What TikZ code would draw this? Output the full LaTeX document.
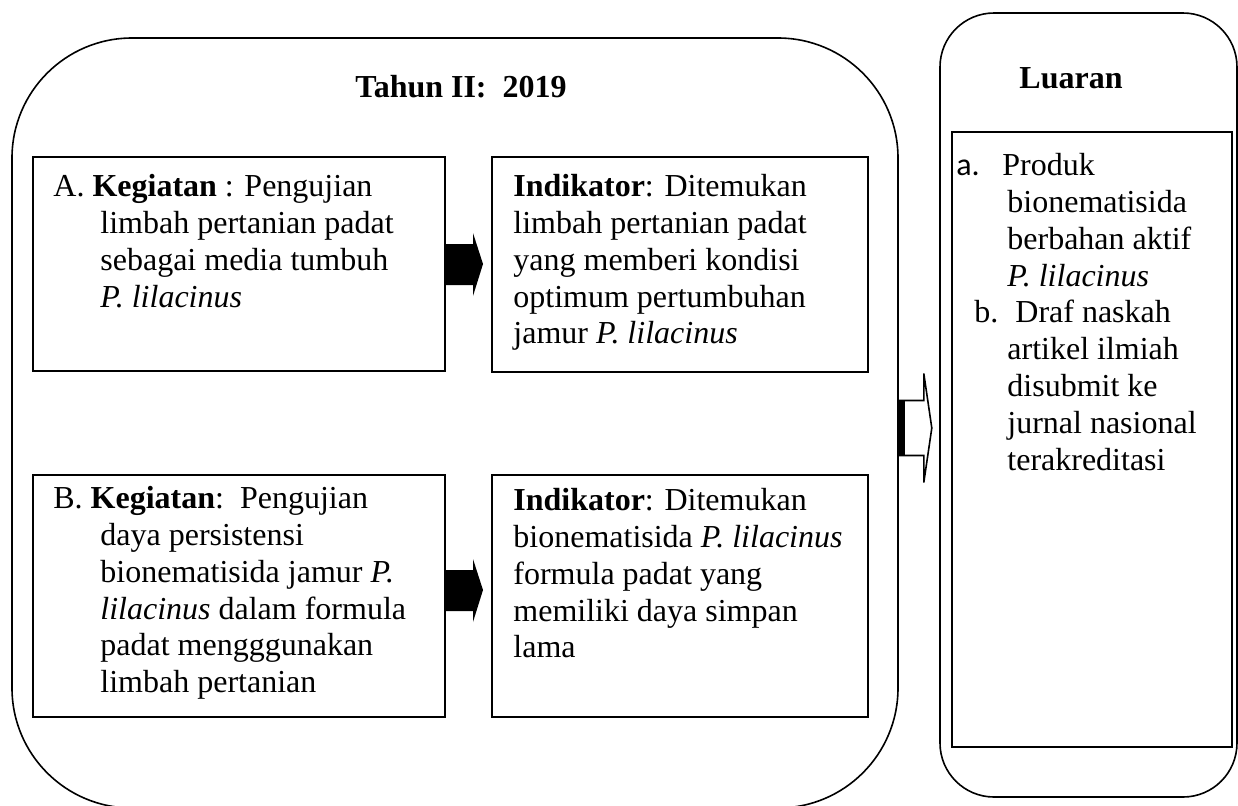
\documentclass[tikz,border=0pt]{standalone}
\usepackage{fontspec}
\setmainfont{Liberation Serif}
\newfontfamily\labelfont{Carlito}
\newcommand\hind{\hspace*{23.5pt}}
\newcommand\lind{\hspace*{25.5pt}}

\begin{document}
\begin{tikzpicture}
            [x=0.5pt,y=-0.5pt,
             bigbox/.style={draw,line width=0.8pt,rounded corners=60pt,inner sep=0pt},
             sidebox/.style={draw,line width=0.8pt,rounded corners=27pt,inner sep=0pt},
             box/.style={draw,line width=1pt,inner sep=0pt},
             txt/.style={inner sep=0pt,align=left,anchor=north west,font=\fontsize{16}{18.4}\selectfont},
             head/.style={inner sep=0pt,anchor=base,font=\bfseries\fontsize{16}{18.4}\selectfont}]
            \useasboundingbox (0,0) rectangle (1238,805);
            % frames
            \node[bigbox,minimum width=443pt,minimum height=385pt] (year) at (455,423) {};
            \node[sidebox,minimum width=148.5pt,minimum height=392pt] (out) at (1088.5,405) {};
            \node[head] (tahun) at (461,97) {Tahun II:\ \ 2019};
            \node[head] (luaran) at (1071,88) {Luaran};
            % boxes
            \node[box,minimum width=206pt,minimum height=107pt] (boxA) at (239,264) {};
            \node[box,minimum width=188pt,minimum height=107.5pt] (indA) at (680,264.5) {};
            \node[box,minimum width=206pt,minimum height=121pt] (boxB) at (239,596) {};
            \node[box,minimum width=188pt,minimum height=121pt] (indB) at (680,596) {};
            \node[box,minimum width=140pt,minimum height=307.5pt] (list) at (1092,439.5) {};
            % texts
            \node[txt] (kegA) at (53,174) {A. \textbf{Kegiatan} : Pengujian\\
                \hind limbah pertanian padat\\ \hind sebagai media tumbuh\\ \hind\textit{P. lilacinus}};
            \node[txt] (hasA) at (513,174) {\textbf{Indikator}: Ditemukan\\ limbah pertanian padat\\
                yang memberi kondisi\\ optimum pertumbuhan\\ jamur \textit{P. lilacinus}};
            \node[txt] (kegB) at (53,486) {B. \textbf{Kegiatan}:\ \ Pengujian\\
                \hind daya persistensi\\ \hind bionematisida jamur \textit{P.}\\
                \hind\textit{lilacinus} dalam formula\\ \hind padat mengggunakan\\ \hind limbah pertanian};
            \node[txt] (hasB) at (513,488) {\textbf{Indikator}: Ditemukan\\ bionematisida \textit{P. lilacinus}\\
                formula padat yang\\ memiliki daya simpan\\ lama};
            \node[txt] (items) at (956,153) {\makebox[23pt][l]{\labelfont a.}Produk\\
                \lind bionematisida\\ \lind berbahan aktif\\ \lind\textit{P. lilacinus}\\
                \hspace*{9pt}\makebox[20.5pt][l]{b.}Draf naskah\\ \lind artikel ilmiah\\
                \lind disubmit ke\\ \lind jurnal nasional\\ \lind terakreditasi};
            % arrows
            \fill (boxA.east) ++(0,-20) -- ++(27,0) -- ++(0,-11) -- ++(10,31) -- ++(-10,32) -- ++(0,-11) -- ++(-27,0) -- cycle;
            \fill (boxB.east) ++(0,-26) -- ++(27,0) -- ++(0,-11) -- ++(10,31) -- ++(-10,32) -- ++(0,-11) -- ++(-27,0) -- cycle;
            \draw[line width=0.8pt,fill=white] (year.east) ++(0,-22.5) -- ++(25,0) -- ++(0,-27) -- ++(8,54.5) -- ++(-8,54.5) -- ++(0,-27) -- ++(-25,0) -- cycle;
            \fill (year.east) ++(0,-22.5) rectangle ++(6,55);
        \end{tikzpicture}
\end{document}
